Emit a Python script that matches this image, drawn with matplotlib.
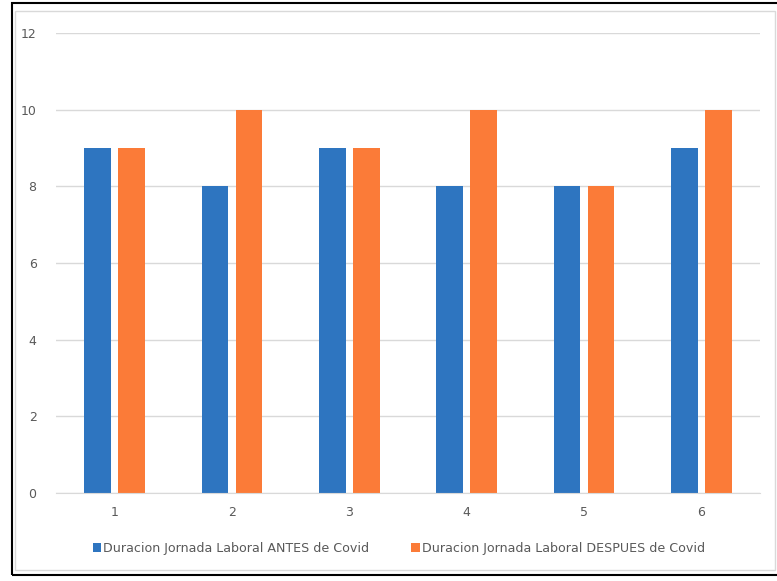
import numpy as np
import matplotlib.pyplot as plt
from matplotlib.patches import Rectangle

# datos
categorias = ["1", "2", "3", "4", "5", "6"]
antes = [9, 8, 9, 8, 8, 9]
despues = [9, 10, 9, 10, 8, 10]
etiquetas = ["Duracion Jornada Laboral ANTES de Covid",
             "Duracion Jornada Laboral DESPUES de Covid"]

azul = "#2E75C0"
naranja = "#FB7B38"
gris = "#595959"

fig = plt.figure(figsize=(7.77, 5.81), dpi=100)
ax = fig.add_axes([56 / 777, 1 - 493 / 581, 704 / 777, 460 / 581])

x = np.arange(len(categorias))
w = 0.228
ax.bar(x - 0.145, antes, width=w, color=azul, label=etiquetas[0])
ax.bar(x + 0.145, despues, width=w, color=naranja, label=etiquetas[1])

ax.set_xlim(-0.5, len(categorias) - 0.5)
ax.set_ylim(0, 12)
ax.set_yticks(range(0, 13, 2))
ax.set_xticks(x)
ax.set_xticklabels(categorias)
ax.tick_params(axis="both", length=0, colors=gris, labelsize=9)
ax.tick_params(axis="y", pad=14)
ax.tick_params(axis="x", pad=9)
ax.grid(axis="y", color="#D9D9D9", linewidth=1)
ax.set_axisbelow(True)
for s in ["top", "right", "left"]:
    ax.spines[s].set_visible(False)
ax.spines["bottom"].set_color("#D9D9D9")

ax.legend(loc="center", bbox_to_anchor=(0.487, -0.12), ncol=2, frameon=False,
          fontsize=9.1, labelcolor=gris, handlelength=0.7, handleheight=0.7,
          columnspacing=3.3, handletextpad=0.15)

# marco del grafico
fig.patches.append(Rectangle((15 / 777, 11 / 581), 760 / 777, 559 / 581,
                             transform=fig.transFigure, fill=False,
                             edgecolor="#D9D9D9", linewidth=1))
fig.patches.append(Rectangle((12 / 777, 6 / 581), 770 / 777, 572 / 581,
                             transform=fig.transFigure, fill=False,
                             edgecolor="black", linewidth=1.5))

fig.savefig("out.png", dpi=100)
